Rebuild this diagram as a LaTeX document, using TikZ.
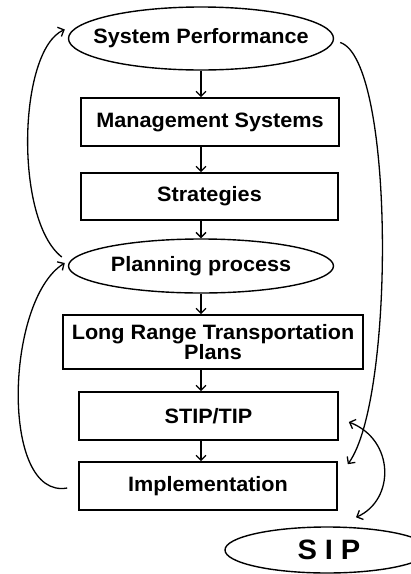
\documentclass[tikz,border=0pt]{standalone}
\usepackage{fontspec}
\setmainfont{Liberation Sans}[FakeStretch=1.04]
\usetikzlibrary{arrows.meta,shapes.geometric}

\begin{document}
\begin{tikzpicture}[x=1pt,y=-1pt,
  lbl/.style={font=\fontsize{20.8}{19}\selectfont\bfseries},
  oval/.style={draw, ellipse, line width=1.4pt, inner sep=0pt},
  stepbox/.style={draw, rectangle, line width=1.6pt, inner sep=0pt, lbl, align=center},
  flow/.style={line width=1.3pt, -{Straight Barb[length=5pt,width=10pt]}},
  loop/.style={line width=1.3pt, -{Straight Barb[length=5pt,width=10pt]}},
  both/.style={line width=1.3pt, {Straight Barb[length=5pt,width=10pt]}-{Straight Barb[length=5pt,width=10pt]}},
]
\clip (0,0) rectangle (411,574);
\useasboundingbox (0,0) rectangle (411,574);

% main chain
\node[oval, minimum width=265pt, minimum height=63pt,
      label={[lbl]center:System Performance}] (sp) at (201,38.5) {};
\node[stepbox, minimum width=258pt, minimum height=48pt] (ms) at (210,122) {Management Systems};
\node[stepbox, minimum width=257pt, minimum height=47pt] (st) at (209.5,196.5) {Strategies};
\node[oval, minimum width=265pt, minimum height=54pt,
      label={[lbl]center:Planning process}] (pp) at (201,266) {};
\node[stepbox, minimum width=300pt, minimum height=54pt] (lr) at (213,342)
      {Long Range Transportation\\Plans};
\node[stepbox, minimum width=259pt, minimum height=48pt] (stip) at (208.5,416) {STIP/TIP};
\node[stepbox, minimum width=258pt, minimum height=48pt] (impl) at (208,486) {Implementation};
\node[oval, minimum width=204pt, minimum height=46pt,
      label={[xshift=2pt, font=\fontsize{28}{28}\selectfont\bfseries\addfontfeature{LetterSpace=28}]center:SIP}]
      (sip) at (327,550) {};

% downward flow
\draw[flow] (sp.south) -- (sp.south |- ms.north);
\draw[flow] (sp.south |- ms.south) -- (sp.south |- st.north);
\draw[flow] (sp.south |- st.south) -- (pp.north);
\draw[flow] (pp.south) -- (pp.south |- lr.north);
\draw[flow] (pp.south |- lr.south) -- (pp.south |- stip.north);
\draw[flow] (pp.south |- stip.south) -- (pp.south |- impl.north);

% feedback loops
\draw[loop] ([shift={(-6,-9)}]pp.west) .. controls (14,220) and (18,50) .. ([shift={(-3,-9)}]sp.west);
\draw[loop] ([shift={(-11,2)}]impl.west) .. controls (0,500) and (5,300) .. ([shift={(-3,-3)}]pp.west);
\draw[loop] ([shift={(6,4)}]sp.east) .. controls (395,60) and (395,400) .. ([shift={(10,3)}]impl.north east);
\draw[both] ([shift={(10,6)}]stip.east) .. controls (395,440) and (395,500) .. ([shift={(29,-9)}]sip.north);
\end{tikzpicture}
\end{document}
